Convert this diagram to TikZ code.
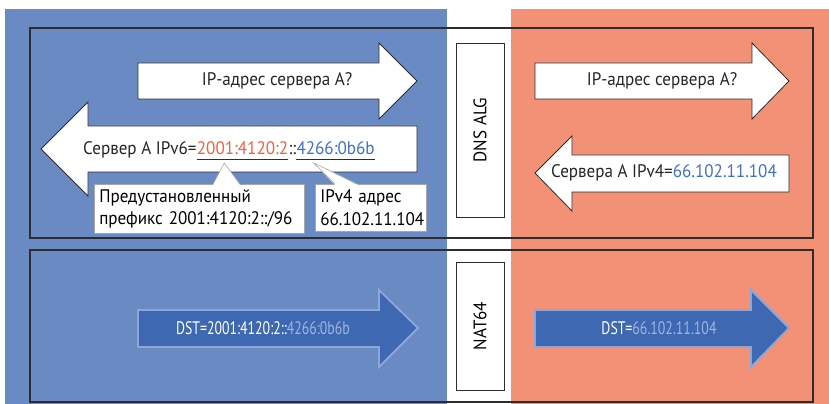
\documentclass[tikz,border=0pt]{standalone}
\usepackage{fontspec}
\setmainfont[FakeStretch=0.94]{PT Sans}
\newfontfamily\narrowfont[FakeStretch=0.76]{PT Sans}
\usetikzlibrary{positioning, calc}

\definecolor{v6blue}{RGB}{106,138,196}
\definecolor{v4salmon}{RGB}{243,145,118}
\definecolor{pktblue}{RGB}{62,104,178}
\definecolor{pktedge}{RGB}{140,166,216}
\definecolor{pfxred}{RGB}{240,96,66}
\definecolor{hostblue}{RGB}{66,112,196}
\definecolor{hostpale}{RGB}{160,180,222}
\definecolor{framegray}{RGB}{45,45,48}

\begin{document}
\begin{tikzpicture}[
  x=0.03cm, y=-0.03cm,
  font=\fontsize{15.5}{18}\selectfont,
  zone/.style={draw=framegray, line width=1.1pt},
  msg/.style={draw=framegray, fill=white, line width=0.7pt, line join=miter},
  pkt/.style={fill=pktblue, draw=pktedge, line width=1.6pt, line join=miter},
  gw/.style={draw=framegray, fill=white, line width=0.8pt, rotate=90, minimum height=1.44cm},
  note/.style={draw=gray!70, fill=white, line width=0.5pt, anchor=north west, align=left,
    inner sep=0.15cm, minimum height=1.41cm, font=\fontsize{15.5}{19.5}\selectfont},
  txt/.style={inner sep=0pt, text=black!85},
  seg/.style={inner sep=0pt, anchor=base west},
  pkttxt/.style={inner sep=0pt, text=white, font=\narrowfont\fontsize{15.5}{18}\selectfont},
]
\useasboundingbox (0,0) rectangle (829,404);

% IPv6 and IPv4 sides
\fill[v6blue] (5,9) rectangle (447,404);
\fill[v4salmon] (511,9) rectangle (829,404);

% DNS part and data part
\draw[zone] (30,28) rectangle (813,238);
\draw[zone] (30,250) rectangle (813,402);

\node[gw, minimum width=5.22cm] (alg) at (480,130) {DNS ALG};
\node[gw, minimum width=3.84cm] (nat) at (480,326) {NAT64};

% DNS query, both sides
\draw[msg] (138,63) -- (379,63) -- (379,43) -- (417,81) -- (379,119) -- (379,99) -- (138,99) -- cycle;
\node[txt] (q6) at (277,81) {IP-адрес сервера A?};
\draw[msg] (535,63) -- (752,63) -- (752,43) -- (789,81) -- (752,119) -- (752,99) -- (535,99) -- cycle;
\node[txt] (q4) at (662,81) {IP-адрес сервера A?};

% DNS answers
\draw[msg] (789,155) -- (572,155) -- (572,136) -- (535,173) -- (572,211) -- (572,192) -- (789,192) -- cycle;
\node[txt] (a4) at (664,173) {Сервера A IPv4=\textcolor{hostblue}{66.102.11.104}};
\draw[msg] (417,126) -- (88,126) -- (88,102) -- (41,149) -- (88,196) -- (88,172) -- (417,172) -- cycle;

% synthesized AAAA answer, one piece per part of the address
\node[txt, anchor=base west] (a6) at (83,155) {Сервер A IPv6=};
\node[seg, text=pfxred] (pfx) at (a6.base east) {2001:4120:2};
\node[seg, text=black!85] (dcol) at (pfx.base east) {::};
\node[seg, text=hostblue] (hst) at (dcol.base east) {4266:0b6b};
\draw[framegray, line width=0.8pt] ([yshift=-3.6pt]pfx.base west) -- ([yshift=-3.6pt]pfx.base east);
\draw[framegray, line width=0.8pt] ([yshift=-3.6pt]hst.base west) -- ([yshift=-3.6pt]hst.base east);

\node[note, minimum width=6.3cm, text width=6.0cm] (pfxnote) at (94,184) {Предустановленный\\префикс 2001:4120:2::/96};
\node[note, minimum width=3.33cm, text width=3.03cm] (hstnote) at (315,184) {IPv4 адрес\\66.102.11.104};
\coordinate (p1) at ($(pfx.base west)!0.3!(pfx.base east)+(0,8)$);
\coordinate (p2) at ($(hst.base west)!0.22!(hst.base east)+(0,8)$);
\fill[white] ($(pfxnote.north west)+(119,1)$) -- (p1) -- ($(pfxnote.north west)+(146,1)$) -- cycle;
\draw[gray!70, line width=0.5pt] ($(pfxnote.north west)+(119,0)$) -- (p1) -- ($(pfxnote.north west)+(146,0)$);
\fill[white] ($(hstnote.north west)+(20,1)$) -- (p2) -- ($(hstnote.north west)+(43,1)$) -- cycle;
\draw[gray!70, line width=0.5pt] ($(hstnote.north west)+(20,0)$) -- (p2) -- ($(hstnote.north west)+(43,0)$);

% packets through NAT64
\draw[pkt] (138,310) -- (379,310) -- (379,290) -- (418,328) -- (379,367) -- (379,347) -- (138,347) -- cycle;
\node[pkttxt] (d6) at (263,328) {DST=2001:4120:2::\textcolor{hostpale}{4266:0b6b}};
\draw[pkt] (535,310) -- (751,310) -- (751,290) -- (789,328) -- (751,367) -- (751,347) -- (535,347) -- cycle;
\node[pkttxt] (d4) at (659,328) {DST=\textcolor{hostpale}{66.102.11.104}};
\end{tikzpicture}
\end{document}
